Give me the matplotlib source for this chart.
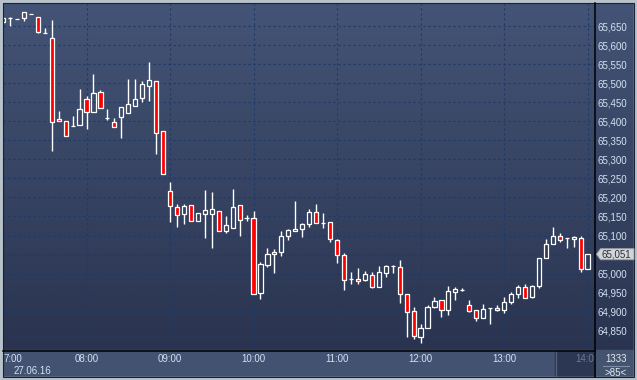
import matplotlib
matplotlib.use("Agg")
import matplotlib.pyplot as plt
import numpy as np
from matplotlib.patches import Rectangle, Polygon
from matplotlib.colors import LinearSegmentedColormap
from matplotlib.transforms import blended_transform_factory

plt.rcParams['font.family'] = ['Liberation Sans', 'DejaVu Sans']

# 5-minute bars, 27.06.16, 07:00 .. 14:00
opens = [65660, 65671, 65668, 65670, 65681, 65673, 65631, 65618, 65407, 65401,
         65388, 65389, 65458, 65423, 65476, 65409, 65397, 65410, 65421, 65441,
         65460, 65492, 65505, 65374, 65216, 65175, 65156, 65180, 65138, 65156,
         65156, 65164, 65111, 65119, 65179, 65145, 65145, 64948, 65022, 65051,
         65056, 65098, 65111, 65116, 65129, 65161, 65132, 65135, 65088, 65048,
         64985, 64986, 64983, 64997, 64966, 65001, 65021, 65017, 64946, 64901,
         64834, 64856, 64912, 64930, 64904, 64951, 64956, 64917, 64904, 64883,
         64909, 64909, 64904, 64925, 64946, 64964, 64938, 64968, 65040, 65077,
         65098, 65093, 65090, 65093, 65011]
highs = [65674, 65674, 65668, 65686, 65681, 65674, 65646, 65666, 65427, 65401,
         65415, 65485, 65467, 65524, 65482, 65432, 65408, 65437, 65511, 65511,
         65506, 65556, 65505, 65374, 65241, 65183, 65183, 65180, 65159, 65220,
         65214, 65164, 65151, 65222, 65179, 65153, 65164, 65030, 65067, 65065,
         65112, 65116, 65191, 65132, 65169, 65183, 65158, 65135, 65090, 65053,
         65003, 65014, 65006, 65003, 65020, 65022, 65023, 65036, 64946, 64913,
         64868, 64917, 64939, 64930, 64968, 64964, 64962, 64931, 64904, 64919,
         64909, 64917, 64939, 64951, 64969, 64972, 64969, 65040, 65090, 65122,
         65106, 65093, 65098, 65098, 65051]
lows = [65658, 65651, 65668, 65664, 65681, 65632, 65631, 65323, 65400, 65360,
        65388, 65389, 65380, 65423, 65434, 65403, 65385, 65355, 65421, 65441,
        65451, 65454, 65315, 65261, 65136, 65123, 65130, 65138, 65138, 65094,
        65068, 65111, 65106, 65119, 65099, 65139, 64946, 64933, 65017, 65001,
        65047, 65088, 65111, 65097, 65123, 65132, 65120, 65083, 65028, 64957,
        64972, 64972, 64980, 64963, 64966, 64992, 65001, 64922, 64834, 64828,
        64819, 64856, 64910, 64885, 64892, 64930, 64954, 64898, 64875, 64883,
        64867, 64901, 64896, 64920, 64935, 64935, 64935, 64961, 65040, 65077,
        65082, 65066, 65069, 65003, 65011]
closes = [65671, 65671, 65668, 65686, 65681, 65633, 65631, 65399, 65400, 65360,
          65388, 65431, 65425, 65473, 65434, 65409, 65385, 65437, 65444, 65458,
          65497, 65508, 65369, 65261, 65177, 65153, 65177, 65138, 65159, 65166,
          65170, 65111, 65128, 65174, 65140, 65145, 64946, 65025, 65051, 65056,
          65098, 65114, 65117, 65129, 65161, 65132, 65132, 65090, 65048, 64983,
          64985, 64981, 64998, 64966, 65003, 65019, 65021, 64946, 64900, 64837,
          64856, 64912, 64927, 64904, 64954, 64959, 64956, 64901, 64883, 64906,
          64909, 64904, 64925, 64946, 64964, 64935, 64967, 65040, 65077, 65098,
          65088, 65093, 65095, 65011, 65051]

hour_labels = ['07:00', '08:00', '09:00', '10:00', '11:00', '12:00', '13:00', '14:00']
bars_per_hour = 12
date_label = '27.06.16'
price_ticks = list(range(64850, 65651, 50))
bar_count_label = '>85<'
info_label = '1333'

W, H = 637, 380
fig = plt.figure(figsize=(W / 100, H / 100), dpi=100)

# background layer, pixel coords (top-left origin)
bg = fig.add_axes([0, 0, 1, 1], zorder=0)
grad = np.linspace(0, 1, 256)[:, None]
cmap = LinearSegmentedColormap.from_list('bg', ['#445476', '#2a3450'])
bg.imshow(grad, cmap=cmap, extent=(3, 634, 350, 3), aspect='auto')
bg.add_patch(Rectangle((3, 350), 631, 27, color='#435270'))
bg.add_patch(Rectangle((555, 351), 40, 26, color='#2c3853'))
bg.plot([555.5, 555.5], [351, 377], color='#56647e', lw=0.8)
bg.set_xlim(0, W)
bg.set_ylim(H, 0)
bg.axis('off')

# main chart
ax = fig.add_axes([3 / W, 30 / H, 592 / W, 347 / H], zorder=1)
ax.patch.set_alpha(0)
for s in ax.spines.values():
    s.set_visible(False)

px_per_bar = 6.962
x0_px = 2.76
ax.set_xlim((3 - x0_px) / px_per_bar, (595 - x0_px) / px_per_bar)
ax.set_ylim(64799.5, 65710.4)

last = closes[-1]
hour_pos = [i * bars_per_hour for i in range(len(hour_labels))]
ax.set_xticks(hour_pos)
ax.set_xticklabels([])
ax.set_yticks(price_ticks)
# the tick hidden under the last-price flag is left blank
ax.set_yticklabels(['' if abs(v - last) < 20 else f'{v:,}' for v in price_ticks])
ax.yaxis.tick_right()
ax.tick_params(axis='x', length=0)
ax.tick_params(axis='y', length=0, pad=1.5, labelsize=7, labelcolor='#d2e2f4')
ax.grid(True, color='#1d3a68', linestyle=(0, (2, 2.5)), linewidth=0.8)
ax.set_axisbelow(True)

o = np.array(opens)
h = np.array(highs)
l = np.array(lows)
c = np.array(closes)
x = np.arange(len(o))
top = np.maximum(o, c)
bot = np.minimum(o, c)
up = c >= o

ax.vlines(x, top, h, color='white', lw=1.0, zorder=3)
ax.vlines(x, l, bot, color='white', lw=1.0, zorder=3)
ax.bar(x, top - bot, bottom=bot, width=0.6,
       color=np.where(up, 'none', '#ff0000'), edgecolor='white',
       linewidth=0.9, zorder=4)

# time labels in the bottom panel
ov = fig.add_axes([0, 0, 1, 1], zorder=3)
ov.set_xlim(0, W)
ov.set_ylim(H, 0)
ov.axis('off')
tr = blended_transform_factory(ax.transData, ov.transData)
for pos, lab in zip(hour_pos, hour_labels):
    if pos == 0:
        # first label is squeezed against the left frame
        ax.text(0.06, 359.5, lab.lstrip('0'), transform=tr, ha='left', va='center',
                fontsize=7, color='#d2e2f4')
    elif pos == hour_pos[-1]:
        ax.text(pos, 359.5, lab, transform=tr, ha='center', va='center',
                fontsize=7, color='#6a7a96')
    else:
        ax.text(pos, 359.5, lab, transform=tr, ha='center', va='center',
                fontsize=7, color='#d2e2f4')
ax.text(1.5, 371, date_label, transform=tr, ha='left', va='center',
        fontsize=7, color='#d2e2f4')

# overlay: frame, separators, price flag, info box
ov.add_patch(Rectangle((595.5, 350.5), 38.5, 26.5, color='#44536e'))
ov.add_patch(Rectangle((0, 0), W, 2, color='#b8c2cb'))
ov.add_patch(Rectangle((0, 377), W, 3, color='#b8c2cb'))
ov.add_patch(Rectangle((0, 0), 2, H, color='#b8c2cb'))
ov.add_patch(Rectangle((634, 0), 3, H, color='#b8c2cb'))
ov.add_patch(Rectangle((2.5, 2.5), 631.5, 374.5, fill=False, ec='#1b2233', lw=0.8))
ov.plot([595, 595], [2.5, 377], color='black', lw=1.1)
ov.plot([2.5, 595], [350.5, 350.5], color='black', lw=1.1)

yp = H - ax.transData.transform((0, last))[1]
ov.add_patch(Polygon([(596.5, yp), (600.5, yp - 5.5), (634, yp - 5.5),
                      (634, yp + 5.5), (600.5, yp + 5.5)],
                     closed=True, fc='#d3d6d9', ec='#9aa1a9', lw=0.7))
ov.text(601, yp + 0.3, f'{last:,}', ha='left', va='center',
        fontsize=7, color='#2a3038')

ov.text(616, 358.5, info_label, ha='center', va='center', fontsize=7, color='#e2eaf2')
ov.plot([603, 629], [365.5, 365.5], color='#7f8ea8', lw=0.8)
ov.text(616, 372.5, bar_count_label, ha='center', va='center', fontsize=7, color='#e2eaf2')

fig.savefig('out.png', dpi=100)
